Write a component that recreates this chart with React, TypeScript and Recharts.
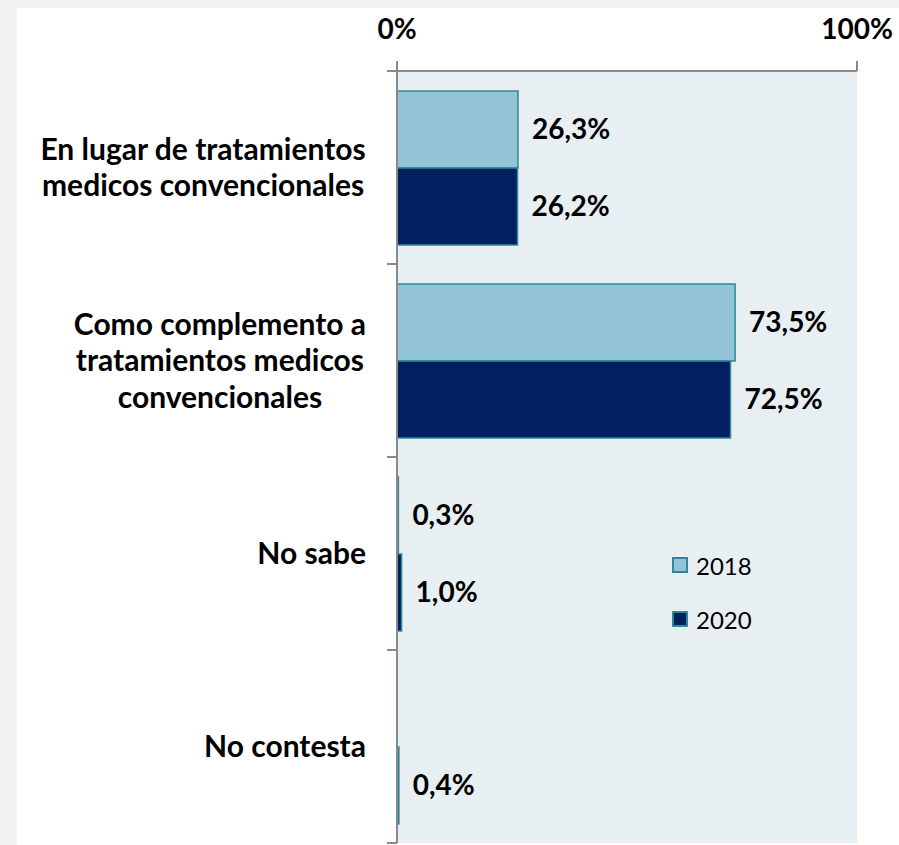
import React from 'react';
import { BarChart, Bar, XAxis, YAxis, CartesianGrid, LabelList, Legend } from 'recharts';

const categories = [
  'En lugar de tratamientos\nmedicos convencionales',
  'Como complemento a\ntratamientos medicos\nconvencionales',
  'No sabe',
  'No contesta',
];
const values2018: (number | null)[] = [26.3, 73.5, 0.3, null];
const values2020: (number | null)[] = [26.2, 72.5, 1.0, 0.4];
const seriesNames = ['2018', '2020'];
const xTicks = [0, 100];

const data = categories.map((name, i) => ({ name, y2018: values2018[i], y2020: values2020[i] }));

const W = 899;
const H = 845;
const AXIS_X = 397;
const PLOT_TOP = 71;
const PLOT_BOTTOM = 843;
const LABEL_RIGHT = 366;
const FONT = 'Lato, "Open Sans", sans-serif';
const AXIS_COLOR = '#8a8a8a';
const BAR_STROKE = '#31859c';
const C2018 = '#93c4d5';
const C2020 = '#002060';

let ctx: CanvasRenderingContext2D | null = null;
function measure(text: string, font: string): number {
  if (!ctx) ctx = document.createElement('canvas').getContext('2d');
  if (!ctx) return text.length * 14;
  ctx.font = font;
  return ctx.measureText(text).width;
}

const CatTick = (props: any) => {
  const { y, payload, index } = props;
  const band = (PLOT_BOTTOM - PLOT_TOP) / categories.length;
  const lines = String(payload.value).split('\n');
  const fs = 30;
  const w = Math.max(...lines.map((l) => measure(l, `700 ${fs}px Lato`)));
  const cx = LABEL_RIGHT - w / 2;
  const lh = 36.5;
  const startY = y - ((lines.length - 1) * lh) / 2;
  return (
    <g>
      <line x1={AXIS_X - 10} x2={AXIS_X} y1={y - band / 2} y2={y - band / 2} stroke={AXIS_COLOR} strokeWidth={2} />
      {index === categories.length - 1 && (
        <line x1={AXIS_X - 10} x2={AXIS_X} y1={y + band / 2} y2={y + band / 2} stroke={AXIS_COLOR} strokeWidth={2} />
      )}
      <text textAnchor="middle" fontFamily={FONT} fontWeight={700} fontSize={fs} fill="#000">
        {lines.map((l, i) => (
          <tspan key={i} x={cx} y={startY + i * lh} dy="0.35em">
            {l}
          </tspan>
        ))}
      </text>
    </g>
  );
};

const fmt = (v: any) => (v === null || v === undefined ? '' : `${Number(v).toFixed(1).replace('.', ',')}%`);

const renderLegend = (props: any) => {
  const { payload } = props;
  return (
    <div style={{ fontFamily: FONT, fontSize: 24, color: '#000' }}>
      {(payload || []).map((e: any, i: number) => (
        <div key={i} style={{ display: 'flex', alignItems: 'center', height: 54 }}>
          <span
            style={{
              display: 'inline-block',
              width: 16,
              height: 16,
              boxSizing: 'border-box',
              border: `2px solid ${BAR_STROKE}`,
              background: e.color,
              marginRight: 8,
            }}
          />
          <span>{e.value}</span>
        </div>
      ))}
    </div>
  );
};

export default function App() {
  return (
    <div style={{ position: 'fixed', left: 0, top: 0, width: W, height: H, background: '#f2f2f2', overflow: 'hidden' }}>
      <div style={{ position: 'absolute', left: 17, top: 8, right: 0, bottom: 0, background: '#ffffff' }} />
      <div style={{ position: 'absolute', left: 0, top: 0 }}>
        <BarChart
          layout="vertical"
          width={W}
          height={H}
          data={data}
          margin={{ top: 0, right: W - 857, bottom: H - PLOT_BOTTOM, left: 0 }}
          barGap={0}
          barSize={77}
        >
          <CartesianGrid horizontal={false} vertical={false} fill="#e8eff3" stroke="none" />
          <XAxis
            type="number"
            orientation="top"
            domain={[0, 100]}
            ticks={xTicks}
            interval={0}
            height={PLOT_TOP}
            tickSize={10}
            tickMargin={22}
            tickFormatter={(v: number) => `${v}%`}
            axisLine={{ stroke: AXIS_COLOR, strokeWidth: 2 }}
            tickLine={{ stroke: AXIS_COLOR, strokeWidth: 2 }}
            tick={{ fill: '#000', fontSize: 28, fontWeight: 700, fontFamily: FONT }}
          />
          <YAxis
            type="category"
            dataKey="name"
            width={AXIS_X}
            interval={0}
            tickLine={false}
            axisLine={{ stroke: AXIS_COLOR, strokeWidth: 2 }}
            tick={<CatTick />}
          />
          <Legend
            layout="vertical"
            align="center"
            verticalAlign="middle"
            content={renderLegend}
            wrapperStyle={{ left: 672, top: 538, width: 120 }}
          />
          <Bar dataKey="y2018" name={seriesNames[0]} fill={C2018} stroke={BAR_STROKE} strokeWidth={1.5} isAnimationActive={false}>
            <LabelList
              dataKey="y2018"
              position="right"
              offset={14}
              formatter={fmt}
              style={{ fill: '#000', fontSize: 28, fontWeight: 700, fontFamily: FONT }}
            />
          </Bar>
          <Bar dataKey="y2020" name={seriesNames[1]} fill={C2020} stroke={BAR_STROKE} strokeWidth={1.5} isAnimationActive={false}>
            <LabelList
              dataKey="y2020"
              position="right"
              offset={14}
              formatter={fmt}
              style={{ fill: '#000', fontSize: 28, fontWeight: 700, fontFamily: FONT }}
            />
          </Bar>
        </BarChart>
      </div>
    </div>
  );
}
